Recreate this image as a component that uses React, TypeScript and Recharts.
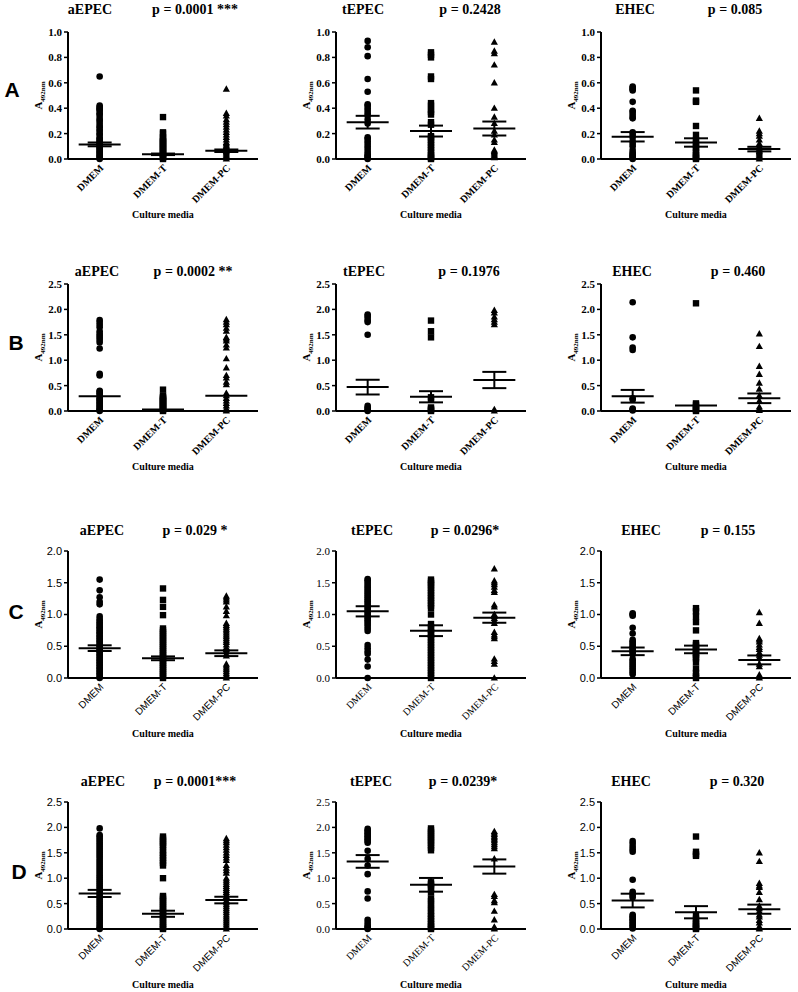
import React from "react";
import { ScatterChart, Scatter, XAxis, YAxis, ErrorBar } from "recharts";

const groups = ["DMEM", "DMEM-T", "DMEM-PC"];
const rowLetters = ["A", "B", "C", "D"];
const strains = ["aEPEC", "tEPEC", "EHEC"];

const pRowA = ["p = 0.0001 ***", "p = 0.2428", "p = 0.085"];
const pRowB = ["p = 0.0002 **", "p = 0.1976", "p = 0.460"];
const pRowC = ["p = 0.029 *", "p = 0.0296*", "p = 0.155"];
const pRowD = ["p = 0.0001***", "p = 0.0239*", "p = 0.320"];

const ticksA = [0, 0.2, 0.4, 0.6, 0.8, 1.0];
const ticksB = [0, 0.5, 1.0, 1.5, 2.0, 2.5];
const ticksC = [0, 0.5, 1.0, 1.5, 2.0];
const ticksD = [0, 0.5, 1.0, 1.5, 2.0, 2.5];

// ---- Row A ----
const A_aEPEC_DMEM = [0.65, 0.42, 0.41, 0.40, 0.39, 0.38, 0.36, 0.35, 0.33, 0.31, 0.30, 0.28, 0.26, 0.25, 0.23, 0.22, 0.20, 0.19, 0.17, 0.16, 0.15, 0.14, 0.13, 0.12, 0.11, 0.10, 0.09, 0.08, 0.07, 0.06, 0.05, 0.04, 0.03, 0.02, 0.01, 0.00];
const A_aEPEC_T = [0.33, 0.21, 0.20, 0.17, 0.16, 0.15, 0.14, 0.13, 0.12, 0.11, 0.10, 0.09, 0.08, 0.07, 0.06, 0.05, 0.04, 0.03, 0.02, 0.01, 0.00];
const A_aEPEC_PC = [0.55, 0.36, 0.34, 0.31, 0.29, 0.27, 0.25, 0.23, 0.21, 0.19, 0.17, 0.15, 0.13, 0.12, 0.11, 0.10, 0.09, 0.08, 0.07, 0.06, 0.05, 0.04, 0.03, 0.02, 0.01, 0.00];
const A_aEPEC_MEAN = [0.115, 0.037, 0.065];
const A_aEPEC_SEM = [0.015, 0.006, 0.01];

const A_tEPEC_DMEM = [0.93, 0.88, 0.81, 0.63, 0.53, 0.43, 0.42, 0.40, 0.38, 0.36, 0.34, 0.31, 0.28, 0.17, 0.16, 0.14, 0.12, 0.10, 0.08, 0.06, 0.04, 0.03, 0.02, 0.01, 0.00];
const A_tEPEC_T = [0.84, 0.82, 0.80, 0.65, 0.63, 0.44, 0.42, 0.39, 0.37, 0.35, 0.29, 0.27, 0.18, 0.17, 0.15, 0.13, 0.11, 0.09, 0.07, 0.05, 0.03, 0.02, 0.01, 0.00];
const A_tEPEC_PC = [0.92, 0.85, 0.83, 0.74, 0.60, 0.40, 0.33, 0.28, 0.22, 0.19, 0.15, 0.13, 0.07, 0.06, 0.05, 0.04, 0.03, 0.02, 0.01];
const A_tEPEC_MEAN = [0.29, 0.22, 0.24];
const A_tEPEC_SEM = [0.05, 0.043, 0.055];

const A_EHEC_DMEM = [0.57, 0.56, 0.55, 0.54, 0.45, 0.38, 0.37, 0.35, 0.33, 0.32, 0.21, 0.19, 0.17, 0.14, 0.12, 0.10, 0.07, 0.05, 0.04, 0.03, 0.02, 0.01, 0.00];
const A_EHEC_T = [0.54, 0.46, 0.45, 0.26, 0.19, 0.15, 0.13, 0.11, 0.09, 0.07, 0.05, 0.03, 0.02, 0.01, 0.00];
const A_EHEC_PC = [0.32, 0.22, 0.20, 0.18, 0.15, 0.12, 0.10, 0.09, 0.08, 0.07, 0.06, 0.05, 0.04, 0.03, 0.02, 0.01, 0.00];
const A_EHEC_MEAN = [0.175, 0.13, 0.078];
const A_EHEC_SEM = [0.037, 0.033, 0.018];

// ---- Row B ----
const B_aEPEC_DMEM = [1.79, 1.75, 1.70, 1.65, 1.57, 1.52, 1.48, 1.44, 1.40, 1.35, 1.23, 0.73, 0.70, 0.40, 0.38, 0.35, 0.32, 0.28, 0.25, 0.22, 0.20, 0.17, 0.14, 0.12, 0.09, 0.06, 0.04, 0.02, 0.00];
const B_aEPEC_T = [0.42, 0.30, 0.28, 0.26, 0.24, 0.22, 0.20, 0.18, 0.16, 0.14, 0.12, 0.10, 0.08, 0.06, 0.04, 0.02, 0.00];
const B_aEPEC_PC = [1.80, 1.75, 1.70, 1.63, 1.57, 1.45, 1.42, 1.38, 1.30, 1.24, 1.03, 0.85, 0.70, 0.65, 0.57, 0.52, 0.35, 0.30, 0.25, 0.20, 0.15, 0.10, 0.05, 0.02, 0.00];
const B_aEPEC_MEAN = [0.29, 0.03, 0.30];
const B_aEPEC_SEM = [0, 0, 0];

const B_tEPEC_DMEM = [1.90, 1.87, 1.83, 1.78, 1.75, 1.50, 0.10, 0.07, 0.04, 0.02, 0.00];
const B_tEPEC_T = [1.78, 1.57, 1.45, 0.27, 0.22, 0.07, 0.04, 0.02, 0.00];
const B_tEPEC_PC = [1.98, 1.93, 1.85, 1.80, 1.75, 1.70, 0.03, 0.00];
const B_tEPEC_MEAN = [0.47, 0.28, 0.61];
const B_tEPEC_SEM = [0.145, 0.11, 0.16];

const B_EHEC_DMEM = [2.14, 1.45, 1.25, 1.20, 0.25, 0.22, 0.05, 0.03, 0.01];
const B_EHEC_T = [2.12, 0.15, 0.12, 0.08, 0.05, 0.02, 0.00];
const B_EHEC_PC = [1.52, 1.27, 0.88, 0.72, 0.55, 0.43, 0.30, 0.20, 0.08, 0.04, 0.01];
const B_EHEC_MEAN = [0.29, 0.11, 0.25];
const B_EHEC_SEM = [0.125, 0, 0.095];

// ---- Row C ----
const C_aEPEC_DMEM = [1.55, 1.38, 1.27, 1.20, 1.16, 0.97, 0.93, 0.90, 0.87, 0.85, 0.82, 0.80, 0.77, 0.75, 0.72, 0.70, 0.67, 0.65, 0.62, 0.60, 0.57, 0.55, 0.52, 0.50, 0.47, 0.45, 0.42, 0.40, 0.37, 0.35, 0.32, 0.30, 0.27, 0.25, 0.22, 0.20, 0.17, 0.15, 0.12, 0.10, 0.07, 0.05, 0.02, 0.00];
const C_aEPEC_T = [1.41, 1.23, 1.12, 0.99, 0.78, 0.75, 0.72, 0.69, 0.66, 0.63, 0.60, 0.57, 0.54, 0.51, 0.48, 0.45, 0.42, 0.39, 0.36, 0.33, 0.30, 0.27, 0.24, 0.21, 0.18, 0.15, 0.12, 0.09, 0.06, 0.03, 0.00];
const C_aEPEC_PC = [1.29, 1.26, 1.23, 1.20, 1.12, 1.05, 0.98, 0.86, 0.83, 0.80, 0.77, 0.74, 0.71, 0.68, 0.65, 0.62, 0.59, 0.56, 0.52, 0.48, 0.45, 0.42, 0.38, 0.35, 0.22, 0.19, 0.16, 0.13, 0.10, 0.07, 0.04, 0.02, 0.00];
const C_aEPEC_MEAN = [0.47, 0.31, 0.39];
const C_aEPEC_SEM = [0.045, 0.03, 0.045];

const C_tEPEC_DMEM = [1.56, 1.54, 1.51, 1.48, 1.45, 1.42, 1.39, 1.36, 1.33, 1.30, 1.27, 1.24, 1.21, 1.18, 1.15, 1.12, 1.09, 1.06, 1.03, 1.00, 0.97, 0.94, 0.91, 0.88, 0.85, 0.82, 0.78, 0.74, 0.52, 0.47, 0.42, 0.38, 0.29, 0.18, 0.00];
const C_tEPEC_T = [1.55, 1.52, 1.49, 1.46, 1.42, 1.38, 1.34, 1.30, 1.26, 1.22, 1.18, 1.14, 1.10, 1.00, 0.85, 0.80, 0.76, 0.72, 0.68, 0.64, 0.60, 0.56, 0.52, 0.48, 0.44, 0.40, 0.36, 0.32, 0.28, 0.24, 0.20, 0.16, 0.12, 0.08, 0.04, 0.00];
const C_tEPEC_PC = [1.72, 1.53, 1.50, 1.47, 1.43, 1.38, 1.35, 1.15, 1.12, 1.00, 0.97, 0.94, 0.90, 0.86, 0.72, 0.68, 0.65, 0.62, 0.30, 0.26, 0.22, 0.00];
const C_tEPEC_MEAN = [1.05, 0.745, 0.95];
const C_tEPEC_SEM = [0.08, 0.085, 0.08];

const C_EHEC_DMEM = [1.02, 1.00, 0.98, 0.79, 0.70, 0.60, 0.57, 0.55, 0.52, 0.50, 0.47, 0.45, 0.42, 0.40, 0.37, 0.30, 0.27, 0.24, 0.21, 0.18, 0.15, 0.12, 0.09, 0.06];
const C_EHEC_T = [1.10, 1.05, 0.97, 0.88, 0.75, 0.55, 0.52, 0.49, 0.46, 0.43, 0.40, 0.37, 0.34, 0.31, 0.25, 0.15, 0.08, 0.03, 0.00];
const C_EHEC_PC = [1.03, 0.86, 0.62, 0.60, 0.57, 0.52, 0.48, 0.45, 0.40, 0.36, 0.32, 0.22, 0.18, 0.05, 0.02, 0.00];
const C_EHEC_MEAN = [0.42, 0.45, 0.285];
const C_EHEC_SEM = [0.06, 0.06, 0.07];

// ---- Row D ----
const D_aEPEC_DMEM = [1.98, 1.85, 1.82, 1.78, 1.74, 1.70, 1.66, 1.62, 1.58, 1.54, 1.50, 1.46, 1.42, 1.38, 1.34, 1.30, 1.26, 1.22, 1.18, 1.14, 1.10, 1.06, 1.02, 0.98, 0.94, 0.90, 0.86, 0.82, 0.78, 0.74, 0.70, 0.66, 0.62, 0.58, 0.54, 0.50, 0.46, 0.42, 0.38, 0.34, 0.30, 0.26, 0.22, 0.18, 0.14, 0.10, 0.06, 0.03, 0.00];
const D_aEPEC_T = [1.82, 1.78, 1.74, 1.70, 1.66, 1.62, 1.55, 1.50, 1.45, 1.40, 1.35, 1.30, 1.25, 1.00, 0.65, 0.62, 0.58, 0.54, 0.50, 0.46, 0.42, 0.38, 0.34, 0.30, 0.26, 0.22, 0.18, 0.14, 0.10, 0.06, 0.03, 0.00];
const D_aEPEC_PC = [1.78, 1.74, 1.70, 1.65, 1.60, 1.55, 1.50, 1.45, 1.40, 1.35, 1.25, 1.20, 1.15, 1.10, 1.00, 0.96, 0.92, 0.88, 0.84, 0.80, 0.76, 0.72, 0.68, 0.64, 0.60, 0.56, 0.52, 0.48, 0.44, 0.40, 0.36, 0.32, 0.28, 0.24, 0.20, 0.16, 0.12, 0.08, 0.04, 0.00];
const D_aEPEC_MEAN = [0.70, 0.30, 0.57];
const D_aEPEC_SEM = [0.07, 0.06, 0.065];

const D_tEPEC_DMEM = [1.97, 1.94, 1.91, 1.88, 1.85, 1.82, 1.79, 1.76, 1.73, 1.70, 1.54, 1.38, 1.25, 1.08, 0.74, 0.60, 0.18, 0.13, 0.08, 0.05, 0.02, 0.00];
const D_tEPEC_T = [1.98, 1.94, 1.90, 1.86, 1.82, 1.78, 1.74, 1.70, 1.65, 1.60, 1.55, 0.92, 0.88, 0.85, 0.80, 0.72, 0.60, 0.55, 0.48, 0.42, 0.36, 0.30, 0.25, 0.20, 0.15, 0.10, 0.06, 0.03, 0.00];
const D_tEPEC_PC = [1.92, 1.89, 1.86, 1.83, 1.80, 1.77, 1.74, 1.70, 1.66, 1.62, 1.58, 1.38, 0.68, 0.64, 0.56, 0.52, 0.35, 0.18, 0.04, 0.02, 0.00];
const D_tEPEC_MEAN = [1.33, 0.87, 1.23];
const D_tEPEC_SEM = [0.125, 0.135, 0.14];

const D_EHEC_DMEM = [1.73, 1.68, 1.62, 1.57, 1.52, 0.97, 0.73, 0.70, 0.66, 0.62, 0.28, 0.25, 0.22, 0.19, 0.16, 0.13, 0.10, 0.07, 0.04, 0.01];
const D_EHEC_T = [1.82, 1.52, 1.47, 1.44, 0.28, 0.20, 0.15, 0.11, 0.08, 0.05, 0.02, 0.00];
const D_EHEC_PC = [1.50, 1.33, 0.90, 0.85, 0.82, 0.72, 0.58, 0.45, 0.40, 0.35, 0.28, 0.24, 0.17, 0.12, 0.05, 0.02, 0.00];
const D_EHEC_MEAN = [0.56, 0.33, 0.39];
const D_EHEC_SEM = [0.135, 0.12, 0.09];

const SERIF = "'Liberation Serif', 'DejaVu Serif', serif";
const SANS = "'Liberation Sans', Arial, sans-serif";

type Font = { family: string; weight: number };
const serifBold: Font = { family: SERIF, weight: 700 };
const serifReg: Font = { family: SERIF, weight: 400 };
const sansReg: Font = { family: SANS, weight: 400 };

type PanelDef = {
  values: number[][];
  mean: number[];
  sem: number[];
  ticks: number[];
  font: Font;
  p: string;
};

const rows: PanelDef[][] = [
  [
    { values: [A_aEPEC_DMEM, A_aEPEC_T, A_aEPEC_PC], mean: A_aEPEC_MEAN, sem: A_aEPEC_SEM, ticks: ticksA, font: serifBold, p: pRowA[0] },
    { values: [A_tEPEC_DMEM, A_tEPEC_T, A_tEPEC_PC], mean: A_tEPEC_MEAN, sem: A_tEPEC_SEM, ticks: ticksA, font: serifBold, p: pRowA[1] },
    { values: [A_EHEC_DMEM, A_EHEC_T, A_EHEC_PC], mean: A_EHEC_MEAN, sem: A_EHEC_SEM, ticks: ticksA, font: serifBold, p: pRowA[2] },
  ],
  [
    { values: [B_aEPEC_DMEM, B_aEPEC_T, B_aEPEC_PC], mean: B_aEPEC_MEAN, sem: B_aEPEC_SEM, ticks: ticksB, font: serifBold, p: pRowB[0] },
    { values: [B_tEPEC_DMEM, B_tEPEC_T, B_tEPEC_PC], mean: B_tEPEC_MEAN, sem: B_tEPEC_SEM, ticks: ticksB, font: serifBold, p: pRowB[1] },
    { values: [B_EHEC_DMEM, B_EHEC_T, B_EHEC_PC], mean: B_EHEC_MEAN, sem: B_EHEC_SEM, ticks: ticksB, font: serifBold, p: pRowB[2] },
  ],
  [
    { values: [C_aEPEC_DMEM, C_aEPEC_T, C_aEPEC_PC], mean: C_aEPEC_MEAN, sem: C_aEPEC_SEM, ticks: ticksC, font: sansReg, p: pRowC[0] },
    { values: [C_tEPEC_DMEM, C_tEPEC_T, C_tEPEC_PC], mean: C_tEPEC_MEAN, sem: C_tEPEC_SEM, ticks: ticksC, font: serifReg, p: pRowC[1] },
    { values: [C_EHEC_DMEM, C_EHEC_T, C_EHEC_PC], mean: C_EHEC_MEAN, sem: C_EHEC_SEM, ticks: ticksC, font: sansReg, p: pRowC[2] },
  ],
  [
    { values: [D_aEPEC_DMEM, D_aEPEC_T, D_aEPEC_PC], mean: D_aEPEC_MEAN, sem: D_aEPEC_SEM, ticks: ticksD, font: sansReg, p: pRowD[0] },
    { values: [D_tEPEC_DMEM, D_tEPEC_T, D_tEPEC_PC], mean: D_tEPEC_MEAN, sem: D_tEPEC_SEM, ticks: ticksD, font: serifReg, p: pRowD[1] },
    { values: [D_EHEC_DMEM, D_EHEC_T, D_EHEC_PC], mean: D_EHEC_MEAN, sem: D_EHEC_SEM, ticks: ticksD, font: sansReg, p: pRowD[2] },
  ],
];

// layout (page pixels)
const colAxisX = [68, 336, 601];
const rowPlotTop = [32, 284, 551, 802];
const titleTop = [2, 264, 523, 774];
const strainX = [
  [90, 363, 635],
  [97, 364, 632],
  [102, 372, 641],
  [103, 371, 631],
];
const pX = [
  [195, 470, 735],
  [193, 469, 738],
  [195, 465, 728],
  [195, 463, 737],
];
const letterPos = [
  [12, 90],
  [16, 343],
  [16, 612],
  [19, 872],
];

const CircleDot = (p: any) => <circle cx={p.cx} cy={p.cy} r={3.3} fill="#000" />;
const SquareDot = (p: any) => (
  <rect x={p.cx - 3.2} y={p.cy - 3.2} width={6.4} height={6.4} fill="#000" />
);
const TriangleDot = (p: any) => (
  <polygon
    points={`${p.cx},${p.cy - 3.8} ${p.cx + 3.6},${p.cy + 2.6} ${p.cx - 3.6},${p.cy + 2.6}`}
    fill="#000"
  />
);
const SHAPES = [CircleDot, SquareDot, TriangleDot];

const MeanLine = (p: any) => (
  <line x1={p.cx - 21} x2={p.cx + 21} y1={p.cy} y2={p.cy} stroke="#000" strokeWidth={2} />
);

const XTick = (props: any) => {
  const { x, y, payload, font } = props;
  return (
    <g transform={`translate(${x + 1},${y})`}>
      <text
        x={0}
        y={0}
        dy={5}
        textAnchor="end"
        transform="rotate(-45)"
        fill="#000"
        fontSize={10}
        fontFamily={font.family}
        fontWeight={font.weight}
      >
        {groups[payload.value]}
      </text>
    </g>
  );
};

const YLabel = (props: any) => {
  const vb = props.viewBox || { x: 0, y: 0, width: 60, height: 127 };
  const cx = vb.x + vb.width - 26;
  const cy = vb.y + vb.height / 2;
  return (
    <text
      x={cx}
      y={cy}
      transform={`rotate(-90 ${cx} ${cy})`}
      textAnchor="middle"
      fill="#000"
      fontSize={11}
      fontFamily={SERIF}
      fontWeight={700}
    >
      A<tspan fontSize={7} dy={3}>492nm</tspan>
    </text>
  );
};

function Panel({ def, left, top }: { def: PanelDef; left: number; top: number }) {
  const max = def.ticks[def.ticks.length - 1];
  const series = def.values.map((vals, i) => vals.map((v) => ({ x: i, y: v })));
  const summary = def.mean.map((m, i) => ({ x: i, y: m, sem: def.sem[i] }));
  return (
    <div style={{ position: "absolute", left, top }}>
      <ScatterChart width={252} height={200} margin={{ top: 10, right: 2, bottom: 0, left: 0 }}>
        <XAxis
          type="number"
          dataKey="x"
          domain={[-0.5, 2.5]}
          ticks={[0, 1, 2]}
          interval={0}
          height={63}
          axisLine={{ stroke: "#000", strokeWidth: 2 }}
          tickLine={false}
          tickSize={4}
          tick={<XTick font={def.font} />}
          label={{
            value: "Culture media",
            position: "insideBottom",
            offset: 4,
            fill: "#000",
            fontSize: 10,
            fontFamily: SERIF,
            fontWeight: 700,
          }}
        />
        <YAxis
          type="number"
          dataKey="y"
          domain={[0, max]}
          ticks={def.ticks}
          interval={0}
          width={60}
          axisLine={{ stroke: "#000", strokeWidth: 2 }}
          tickLine={{ stroke: "#000", strokeWidth: 1.5 }}
          tickSize={4}
          tickMargin={2}
          tickFormatter={(v: number) => v.toFixed(1)}
          tick={{ fill: "#000", fontSize: 11, fontFamily: def.font.family, fontWeight: def.font.weight }}
          label={(p: any) => <YLabel {...p} />}
        />
        {series.map((d, i) => (
          <Scatter key={groups[i]} data={d} shape={SHAPES[i]} isAnimationActive={false} />
        ))}
        <Scatter data={summary} shape={MeanLine} isAnimationActive={false}>
          <ErrorBar
            dataKey="sem"
            direction="y"
            width={12}
            stroke="#000"
            strokeWidth={2}
            isAnimationActive={false}
          />
        </Scatter>
      </ScatterChart>
    </div>
  );
}

const titleStyle: React.CSSProperties = {
  position: "absolute",
  transform: "translateX(-50%)",
  whiteSpace: "nowrap",
  fontFamily: SERIF,
  fontWeight: 700,
  fontSize: 14,
  lineHeight: "16px",
  color: "#000",
};

export default function App() {
  return (
    <div
      style={{
        position: "absolute",
        left: 0,
        top: 0,
        width: 798,
        height: 992,
        background: "#fff",
        overflow: "hidden",
      }}
    >
      {rows.map((row, r) => (
        <React.Fragment key={rowLetters[r]}>
          <div
            style={{
              position: "absolute",
              left: letterPos[r][0],
              top: letterPos[r][1] - 12,
              transform: "translateX(-50%)",
              fontFamily: SANS,
              fontWeight: 700,
              fontSize: 21,
              lineHeight: "24px",
            }}
          >
            {rowLetters[r]}
          </div>
          {row.map((def, c) => (
            <React.Fragment key={strains[c]}>
              <div style={{ ...titleStyle, left: strainX[r][c], top: titleTop[r] }}>{strains[c]}</div>
              <div style={{ ...titleStyle, left: pX[r][c], top: titleTop[r] }}>{def.p}</div>
              <Panel def={def} left={colAxisX[c] - 60} top={rowPlotTop[r] - 10} />
            </React.Fragment>
          ))}
        </React.Fragment>
      ))}
    </div>
  );
}
